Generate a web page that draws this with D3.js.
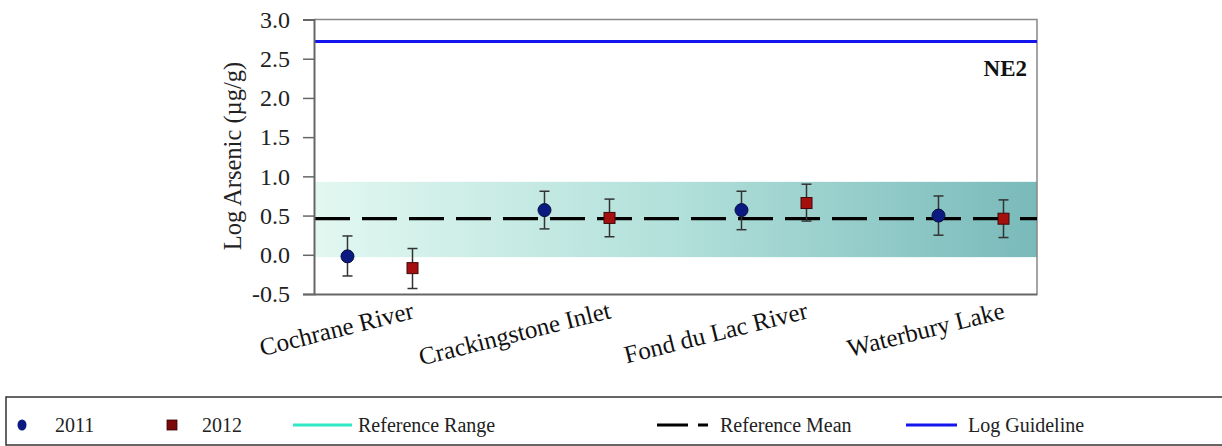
<!DOCTYPE html>
<html>
<head>
<meta charset="utf-8">
<script src="https://cdn.jsdelivr.net/npm/d3@7"></script>
<style>
  body { margin: 0; background: #fff; }
  svg, svg text { font-family: "Times New Roman", "Liberation Serif", "DejaVu Serif", serif !important; }
</style>
</head>
<body>
<div id="chart"></div>
<script>
// data
const sites = ["Cochrane River", "Crackingstone Inlet", "Fond du Lac River", "Waterbury Lake"];
const years = ["2011", "2012"];
const mean2011 = [-0.02, 0.57, 0.57, 0.5];
const low2011 = [-0.27, 0.33, 0.32, 0.25];
const high2011 = [0.24, 0.81, 0.81, 0.75];
const mean2012 = [-0.17, 0.47, 0.66, 0.46];
const low2012 = [-0.43, 0.23, 0.43, 0.22];
const high2012 = [0.08, 0.71, 0.9, 0.7];
const refRange = [-0.03, 0.93];
const refMean = 0.46;
const logGuideline = 2.72;
const yTicks = [-0.5, 0, 0.5, 1, 1.5, 2, 2.5, 3];
const legendLabels = ["2011", "2012", "Reference Range", "Reference Mean", "Log Guideline"];

const W = 1222, H = 446;
const plot = { left: 314, right: 1037, top: 19.5, bottom: 294 };
const serif = "'Times New Roman', 'Liberation Serif', serif";

const svg = d3.select("#chart").append("svg")
  .attr("width", W).attr("height", H)
  .attr("font-family", serif);

// x: site index, 2012 drawn a third of a step to the right
const yearOffset = [0, 0.33];
const x = d3.scaleLinear().domain([-0.17, 3.5]).range([plot.left, plot.right]);
const y = d3.scaleLinear().domain([-0.5, 3]).range([plot.bottom, plot.top]);

//////////////////// reference band ////////////////////
const defs = svg.append("defs");
const grad = defs.append("linearGradient")
  .attr("id", "band")
  .attr("gradientUnits", "userSpaceOnUse")
  .attr("x1", plot.left).attr("x2", plot.right)
  .attr("y1", 0).attr("y2", 0);
grad.append("stop").attr("offset", "0%").attr("stop-color", "#e2f8f1");
grad.append("stop").attr("offset", "50%").attr("stop-color", "#b2e0da");
grad.append("stop").attr("offset", "100%").attr("stop-color", "#79baba");

svg.append("rect")
  .attr("x", plot.left)
  .attr("y", y(refRange[1]))
  .attr("width", plot.right - plot.left)
  .attr("height", y(refRange[0]) - y(refRange[1]))
  .attr("fill", "url(#band)");

// frame top + right
svg.append("path")
  .attr("d", `M${plot.left},${plot.top}H${plot.right}V${plot.bottom}`)
  .attr("fill", "none").attr("stroke", "#888").attr("stroke-width", 1.5);

// guideline
svg.append("line")
  .attr("x1", plot.left).attr("x2", plot.right)
  .attr("y1", y(logGuideline)).attr("y2", y(logGuideline))
  .attr("stroke", "#1515ee").attr("stroke-width", 3);

svg.append("text")
  .attr("x", 1027).attr("y", 76)
  .attr("text-anchor", "end")
  .attr("font-family", serif)
  .style("font-weight", "bold").style("font-size", "23px")
  .attr("fill", "#111")
  .text("NE2");

// mean line
svg.append("line")
  .attr("x1", plot.left + 1).attr("x2", plot.right)
  .attr("y1", y(refMean)).attr("y2", y(refMean))
  .attr("stroke", "#000").attr("stroke-width", 3.2)
  .attr("stroke-dasharray", "35,12");

//////////////////// axes ////////////////////
const fmt = (d) => d3.format(".1f")(d).replace("−", "-");
const yAxis = svg.append("g")
  .attr("transform", `translate(${plot.left},0)`)
  .call(d3.axisLeft(y).tickValues(yTicks).tickFormat(fmt).tickSize(11).tickPadding(13));
yAxis.attr("font-family", serif).attr("font-size", 24);
yAxis.select(".domain").attr("stroke", "#666").attr("stroke-width", 2);
yAxis.selectAll(".tick line").attr("stroke", "#666").attr("stroke-width", 1.5);
yAxis.selectAll(".tick text").attr("fill", "#222");

const xAxis = svg.append("g")
  .attr("transform", `translate(0,${plot.bottom})`)
  .call(d3.axisBottom(x)
    .tickValues(sites.map((d, i) => i + yearOffset[1]))
    .tickFormat((d, i) => sites[i])
    .tickSize(0));
xAxis.attr("font-family", serif).attr("font-size", 25);
xAxis.select(".domain").attr("stroke", "#666").attr("stroke-width", 2);
xAxis.selectAll(".tick text")
  .attr("x", 0).attr("y", 0).attr("dy", 0)
  .attr("text-anchor", "end")
  .attr("transform", "translate(2,24) rotate(-14)")
  .attr("fill", "#111");

svg.append("text")
  .attr("transform", `translate(241,156) rotate(-90)`)
  .attr("text-anchor", "middle")
  .attr("font-family", serif)
  .style("font-size", "24.5px").attr("fill", "#222")
  .text("Log Arsenic (µg/g)");

//////////////////// points + error bars ////////////////////
const series = [
  { mean: mean2011, low: low2011, high: high2011, off: yearOffset[0], shape: "circle", fill: "#0b1a80" },
  { mean: mean2012, low: low2012, high: high2012, off: yearOffset[1], shape: "square", fill: "#a5100f" }
];

series.forEach((s) => {
  const g = svg.append("g");
  const rows = sites.map((d, i) => ({ i, m: s.mean[i], lo: s.low[i], hi: s.high[i] }));
  const cx = (d) => x(d.i + s.off);

  g.selectAll(".bar").data(rows).enter().append("line")
    .attr("x1", cx).attr("x2", cx)
    .attr("y1", (d) => y(d.lo)).attr("y2", (d) => y(d.hi))
    .attr("stroke", "#333").attr("stroke-width", 1.5);
  ["lo", "hi"].forEach((k) => {
    g.selectAll(".cap" + k).data(rows).enter().append("line")
      .attr("x1", (d) => cx(d) - 5).attr("x2", (d) => cx(d) + 5)
      .attr("y1", (d) => y(d[k])).attr("y2", (d) => y(d[k]))
      .attr("stroke", "#333").attr("stroke-width", 1.5);
  });

  if (s.shape === "circle") {
    g.selectAll(".pt").data(rows).enter().append("circle")
      .attr("cx", cx).attr("cy", (d) => y(d.m)).attr("r", 6.5)
      .attr("fill", s.fill).attr("stroke", "#0a0f40").attr("stroke-width", 1);
  } else {
    g.selectAll(".pt").data(rows).enter().append("rect")
      .attr("x", (d) => cx(d) - 5.5).attr("y", (d) => y(d.m) - 5.5)
      .attr("width", 11).attr("height", 11)
      .attr("fill", s.fill).attr("stroke", "#400808").attr("stroke-width", 1);
  }
});

//////////////////// legend ////////////////////
const leg = svg.append("g");
leg.append("rect")
  .attr("x", 6).attr("y", 397).attr("width", 1240).attr("height", 48)
  .attr("fill", "none").attr("stroke", "#333").attr("stroke-width", 1.5);

const ly = 425;
leg.append("ellipse").attr("cx", 22).attr("cy", ly).attr("rx", 4.5).attr("ry", 5.5).attr("fill", "#0b1a80");
leg.append("rect").attr("x", 167).attr("y", ly - 5).attr("width", 10).attr("height", 10)
  .attr("fill", "#7a0a0a").attr("stroke", "#300").attr("stroke-width", 0.8);
leg.append("line").attr("x1", 293).attr("x2", 352).attr("y1", ly).attr("y2", ly)
  .attr("stroke", "#30e8c4").attr("stroke-width", 3);
leg.append("line").attr("x1", 657).attr("x2", 708).attr("y1", ly).attr("y2", ly)
  .attr("stroke", "#000").attr("stroke-width", 3).attr("stroke-dasharray", "31,10");
leg.append("line").attr("x1", 906).attr("x2", 957).attr("y1", ly).attr("y2", ly)
  .attr("stroke", "#1515ee").attr("stroke-width", 3);

const legX = [55, 202, 358, 720, 968];
leg.selectAll(".lt").data(legendLabels).enter().append("text")
  .attr("x", (d, i) => legX[i]).attr("y", ly + 7)
  .attr("font-family", serif)
  .style("font-size", "20px").attr("fill", "#222")
  .text((d) => d);
</script>
</body>
</html>
